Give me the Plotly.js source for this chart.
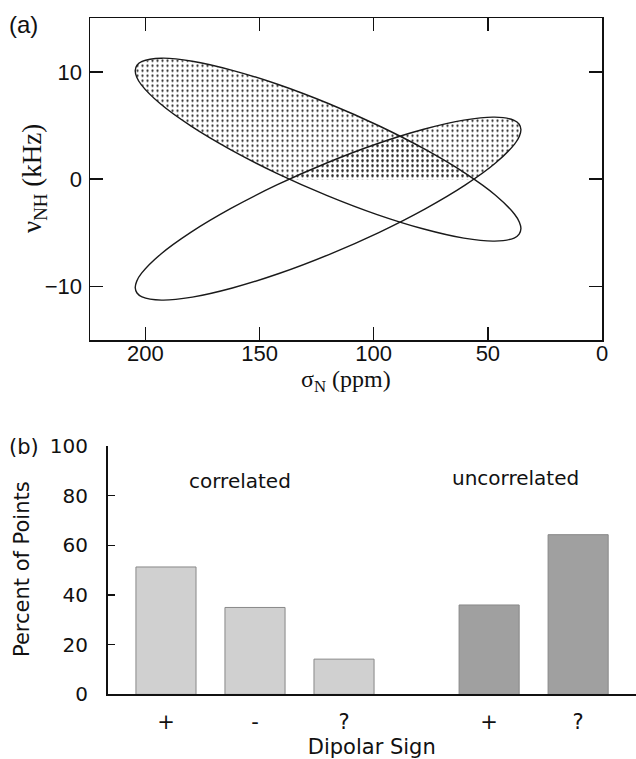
<!DOCTYPE html>
<html><head><meta charset="utf-8">
<script src="https://cdn.plot.ly/plotly-3.0.1.min.js"></script>
<style>html,body{margin:0;padding:0;background:#fff}#chart{width:636px;height:759px}</style>
</head><body><div id="chart"></div>
<script>
// ---- Panel (a): outline of the two orientation ellipses ----
const ellipseA_sigma = [119.63, 97.78, 77.44, 60.00, 46.65, 38.30, 36.19, 35.52, 36.29, 38.50, 47.03, 60.53, 78.08, 98.50, 120.37, 142.22, 162.56, 180.00, 193.35, 201.70, 203.81, 204.48, 203.71, 201.50, 192.97, 179.47, 161.92, 141.50, 119.63];
const ellipseA_nu    = [7.03, 4.98, 2.77, 0.56, -1.50, -3.27, -4.01, -4.63, -5.12, -5.49, -5.78, -5.50, -4.65, -3.30, -1.53, 0.52, 2.73, 4.94, 7.00, 8.77, 9.51, 10.13, 10.62, 10.98, 11.28, 11.00, 10.15, 8.80, 7.03];
const ellipseB_sigma = [119.63, 97.78, 77.44, 60.00, 46.65, 38.30, 36.19, 35.52, 36.29, 38.50, 47.03, 60.53, 78.08, 98.50, 120.37, 142.22, 162.56, 180.00, 193.35, 201.70, 203.81, 204.48, 203.71, 201.50, 192.97, 179.47, 161.92, 141.50, 119.63];
const ellipseB_nu    = [-7.03, -4.98, -2.77, -0.56, 1.50, 3.27, 4.01, 4.63, 5.12, 5.49, 5.78, 5.50, 4.65, 3.30, 1.53, -0.52, -2.73, -4.94, -7.00, -8.77, -9.51, -10.13, -10.62, -10.98, -11.28, -11.00, -10.15, -8.80, -7.03];
// dotted (positive dipolar) regions
const regionA_sigma = [138.6, 142.22, 162.56, 180.00, 193.35, 201.70, 203.81, 204.48, 203.71, 201.50, 192.97, 179.47, 161.92, 141.50, 119.63, 97.78, 77.44, 60.00, 56.4, 138.6];
const regionA_nu    = [0, 0.52, 2.73, 4.94, 7.00, 8.77, 9.51, 10.13, 10.62, 10.98, 11.28, 11.00, 10.15, 8.80, 7.03, 4.98, 2.77, 0.56, 0, 0];
const regionB_sigma = [56.4, 46.65, 38.30, 36.19, 35.52, 36.29, 38.50, 47.03, 60.53, 78.08, 98.50, 120.37, 138.6, 56.4];
const regionB_nu    = [0, 1.50, 3.27, 4.01, 4.63, 5.12, 5.49, 5.78, 5.50, 4.65, 3.30, 1.53, 0, 0];

// ---- Panel (b): bar data ----
const signLabels = ['+', '-', '?', '+', '?'];
const groups     = ['correlated', 'correlated', 'correlated', 'uncorrelated', 'uncorrelated'];
const percents   = [51.3, 35.0, 14.2, 36.0, 64.3];
const groupNames = ['correlated', 'uncorrelated'];

// layout helpers (positions / styles)
const W = 636, H = 759;
const groupStart = {correlated: 1, uncorrelated: 4.63};
const groupColor = {correlated: '#d0d0d0', uncorrelated: '#a0a0a0'};
const groupCount = {};
const positions = groups.map(g => { groupCount[g] = (groupCount[g] || 0); const p = groupStart[g] + groupCount[g]; groupCount[g]++; return p; });

const dotPattern = {shape: '.', fgcolor: '#2a2a2a', bgcolor: 'rgba(0,0,0,0)', size: 5, solidity: 0.16, fillmode: 'replace'};
const traces = [
  {x: regionA_sigma, y: regionA_nu, type: 'scatter', mode: 'none', fill: 'toself', fillcolor: 'rgba(0,0,0,0)', fillpattern: dotPattern, hoverinfo: 'skip', xaxis: 'x', yaxis: 'y'},
  {x: regionB_sigma, y: regionB_nu, type: 'scatter', mode: 'none', fill: 'toself', fillcolor: 'rgba(0,0,0,0)', fillpattern: dotPattern, hoverinfo: 'skip', xaxis: 'x', yaxis: 'y'},
  {x: ellipseA_sigma, y: ellipseA_nu, type: 'scatter', mode: 'lines', line: {color: '#1a1a1a', width: 1.4, shape: 'spline', smoothing: 1}, xaxis: 'x', yaxis: 'y'},
  {x: ellipseB_sigma, y: ellipseB_nu, type: 'scatter', mode: 'lines', line: {color: '#1a1a1a', width: 1.4, shape: 'spline', smoothing: 1}, xaxis: 'x', yaxis: 'y'}
];
groupNames.forEach(g => {
  const idx = groups.map((gg, i) => gg === g ? i : -1).filter(i => i >= 0);
  traces.push({
    type: 'bar', name: g, x: idx.map(i => positions[i]), y: idx.map(i => percents[i]),
    width: 0.675, marker: {color: groupColor[g], line: {color: '#888', width: 1}},
    xaxis: 'x2', yaxis: 'y2'
  });
});

const fA = 'Liberation Sans, Arial, sans-serif';
const fB = 'DejaVu Sans, sans-serif';
const fS = 'Liberation Serif, Times New Roman, serif';
const layout = {
  width: W, height: H, margin: {l: 0, r: 0, t: 0, b: 0}, showlegend: false,
  paper_bgcolor: '#fff', plot_bgcolor: 'rgba(0,0,0,0)',
  xaxis: {domain: [90/W, 602/W], range: [224.3, 0], tickvals: [0, 50, 100, 150, 200], ticks: 'inside', ticklen: 13, tickwidth: 1.5, tickcolor: '#111',
    showline: true, linewidth: 1.5, linecolor: '#111', mirror: 'ticks', showgrid: false, zeroline: false,
    tickfont: {family: fA, size: 22, color: '#111'}, ticklabelstandoff: -7},
  yaxis: {domain: [1 - 340/H, 1 - 18.3/H], range: [-15, 15], tickvals: [-10, 0, 10], ticks: 'inside', ticklen: 13, tickwidth: 1.5, tickcolor: '#111',
    showline: true, linewidth: 1.5, linecolor: '#111', mirror: 'ticks', showgrid: false, zeroline: false,
    tickfont: {family: fA, size: 22, color: '#111'}, ticklabelstandoff: 2},
  xaxis2: {anchor: 'y2', domain: [107.5/W, 1], range: [0.343, 6.28], tickvals: positions, ticktext: signLabels, ticks: '',
    showline: true, linewidth: 1.5, linecolor: '#111', showgrid: false, zeroline: false,
    tickfont: {family: fB, size: 21, color: '#111'}, ticklabelstandoff: 8,
    title: {text: 'Dipolar Sign', font: {family: fB, size: 21, color: '#111'}}},
  yaxis2: {anchor: 'x2', domain: [1 - 694.4/H, 1 - 446/H], range: [0, 100], tickvals: [0, 20, 40, 60, 80, 100], ticks: 'inside', ticklen: 7, tickwidth: 1.5, tickcolor: '#111',
    showline: true, linewidth: 1.5, linecolor: '#111', showgrid: false, zeroline: false,
    tickfont: {family: fB, size: 20, color: '#111'}, ticklabelstandoff: 14},
  annotations: [
    {text: 'σ<sub>N</sub> (ppm)', xref: 'paper', yref: 'paper', x: 346/W, y: 1 - 381/H, xanchor: 'center', yanchor: 'middle', showarrow: false, font: {family: fS, size: 24, color: '#111'}},
    {text: 'ν<sub>NH</sub> (kHz)', xref: 'paper', yref: 'paper', x: 34/W, y: 1 - 179/H, xanchor: 'center', yanchor: 'middle', textangle: -90, showarrow: false, font: {family: fS, size: 27, color: '#111'}},
    {text: 'Percent of Points', xref: 'paper', yref: 'paper', x: 22/W, y: 1 - 569/H, xanchor: 'center', yanchor: 'middle', textangle: -90, showarrow: false, font: {family: fB, size: 21, color: '#111'}},
    {text: '(a)', xref: 'paper', yref: 'paper', x: 23/W, y: 1 - 25/H, xanchor: 'center', yanchor: 'middle', showarrow: false, font: {family: fA, size: 24, color: '#111'}},
    {text: '(b)', xref: 'paper', yref: 'paper', x: 24/W, y: 1 - 447/H, xanchor: 'center', yanchor: 'middle', showarrow: false, font: {family: fB, size: 21, color: '#111'}},
    {text: 'correlated', xref: 'x2', yref: 'y2', x: 1.83, y: 85.9, xanchor: 'center', yanchor: 'middle', showarrow: false, font: {family: fB, size: 20, color: '#111'}},
    {text: 'uncorrelated', xref: 'x2', yref: 'y2', x: 4.93, y: 87.1, xanchor: 'center', yanchor: 'middle', showarrow: false, font: {family: fB, size: 20, color: '#111'}}
  ]
};
Plotly.newPlot('chart', traces, layout, {displayModeBar: false, staticPlot: true});
</script></body></html>
